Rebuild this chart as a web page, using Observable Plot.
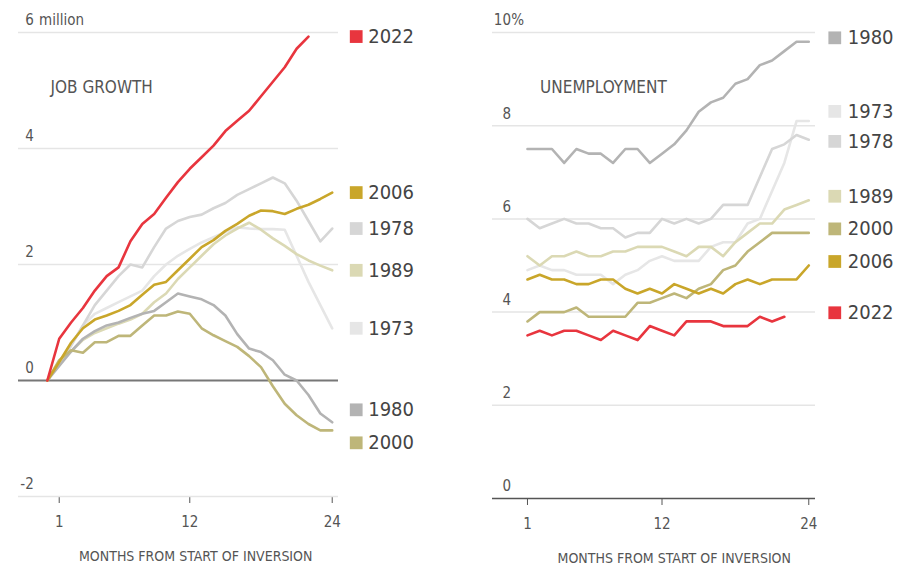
<!DOCTYPE html>
<html><head><meta charset="utf-8">
<script src="https://cdn.jsdelivr.net/npm/d3@7"></script>
<script src="https://cdn.jsdelivr.net/npm/@observablehq/plot@0.6"></script>
<style>
body{margin:0;background:#fff;}
#wrap{display:flex;width:911px;height:576px;overflow:hidden;}
#wrap svg{flex:none;}
</style></head><body><div id="wrap"></div>
<script>
const FONT = '"Liberation Sans Narrow","DejaVu Sans Condensed","Roboto Condensed",sans-serif';

// ---------- DATA ----------
const seriesNames = ["1973", "1978", "1989", "1980", "2000", "2006", "2022"];
const seriesColors = ["#e6e6e6", "#d6d6d6", "#dbd9b4", "#b3b3b3", "#beb679", "#c9a62a", "#e8353e"];

// Job growth: cumulative change in payrolls (millions), months 0..24 from start of inversion
const jobMonths = [0,1,2,3,4,5,6,7,8,9,10,11,12,13,14,15,16,17,18,19,20,21,22,23,24];
const job1973 = [0,0.3,0.6,0.95,1.15,1.25,1.35,1.45,1.55,1.8,2.0,2.15,2.27,2.38,2.47,2.56,2.64,2.62,2.61,2.61,2.6,2.15,1.7,1.3,0.9];
const job1978 = [0,0.3,0.6,0.95,1.3,1.55,1.8,2.0,1.95,2.3,2.62,2.75,2.82,2.86,2.97,3.06,3.2,3.3,3.4,3.5,3.4,3.1,2.75,2.4,2.62];
const job1989 = [0,0.3,0.5,0.7,0.82,0.9,0.98,1.05,1.15,1.35,1.5,1.75,1.95,2.15,2.35,2.5,2.62,2.72,2.6,2.45,2.32,2.18,2.07,1.98,1.9];
const job1980 = [0,0.25,0.5,0.72,0.85,0.95,1.0,1.08,1.15,1.2,1.35,1.5,1.45,1.4,1.3,1.12,0.8,0.55,0.49,0.35,0.1,0.0,-0.25,-0.57,-0.72];
const job2000 = [0,0.35,0.52,0.48,0.66,0.66,0.77,0.77,0.95,1.12,1.12,1.19,1.15,0.9,0.78,0.68,0.58,0.42,0.23,-0.1,-0.4,-0.6,-0.75,-0.86,-0.86];
const job2006 = [0,0.32,0.65,0.9,1.05,1.12,1.2,1.3,1.48,1.65,1.7,1.9,2.1,2.3,2.42,2.58,2.7,2.84,2.93,2.92,2.87,2.96,3.03,3.13,3.24];
const job2022 = [0,0.72,1.0,1.25,1.55,1.8,1.95,2.4,2.7,2.87,3.15,3.42,3.65,3.85,4.05,4.3,4.48,4.65,4.9,5.15,5.4,5.72,5.93];

// Unemployment rate (%), months 1..24 from start of inversion
const unempMonths = [1,2,3,4,5,6,7,8,9,10,11,12,13,14,15,16,17,18,19,20,21,22,23,24];
const u1973 = [4.9,5.0,4.9,4.9,4.8,4.8,4.8,4.6,4.8,4.9,5.1,5.2,5.1,5.1,5.1,5.4,5.5,5.5,5.9,6.0,6.6,7.2,8.1,8.1];
const u1978 = [6.0,5.8,5.9,6.0,5.9,5.9,5.8,5.8,5.6,5.7,5.7,6.0,5.9,6.0,5.9,6.0,6.3,6.3,6.3,6.9,7.5,7.6,7.8,7.7];
const u1989 = [5.2,5.0,5.2,5.2,5.3,5.2,5.2,5.3,5.3,5.4,5.4,5.4,5.3,5.2,5.4,5.4,5.2,5.5,5.7,5.9,5.9,6.2,6.3,6.4];
const u1980 = [7.5,7.5,7.5,7.2,7.5,7.4,7.4,7.2,7.5,7.5,7.2,7.4,7.6,7.9,8.3,8.5,8.6,8.9,9.0,9.3,9.4,9.6,9.8,9.8];
const u2000 = [3.8,4.0,4.0,4.0,4.1,3.9,3.9,3.9,3.9,4.2,4.2,4.3,4.4,4.3,4.5,4.6,4.9,5.0,5.3,5.5,5.7,5.7,5.7,5.7];
const u2006 = [4.7,4.8,4.7,4.7,4.6,4.6,4.7,4.7,4.5,4.4,4.5,4.4,4.6,4.5,4.4,4.5,4.4,4.6,4.7,4.6,4.7,4.7,4.7,5.0];
const u2022 = [3.5,3.6,3.5,3.6,3.6,3.5,3.4,3.6,3.5,3.4,3.7,3.6,3.5,3.8,3.8,3.8,3.7,3.7,3.7,3.9,3.8,3.9];

const jobTicks = [-2, 0, 2, 4, 6];
const unempTicks = [0, 2, 4, 6, 8, 10];
const monthTicks = [1, 12, 24];

const jobValues = [job1973, job1978, job1989, job1980, job2000, job2006, job2022];
const unempValues = [u1973, u1978, u1989, u1980, u2000, u2006, u2022];

// ---------- BUILD ----------
function rows(months, values) {
  const out = [];
  seriesNames.forEach((name, i) => {
    values[i].forEach((v, j) => out.push({series: name, month: months[j], value: v}));
  });
  return out;
}

function dodge(items, gap) {
  items.sort((a, b) => a.py - b.py);
  for (let it = 0; it < 500; it++) {
    let moved = false;
    for (let i = 1; i < items.length; i++) {
      const d = items[i].py - items[i - 1].py;
      if (d < gap - 0.01) {
        const s = (gap - d) / 2;
        items[i].py += s; items[i - 1].py -= s; moved = true;
      }
    }
    if (!moved) break;
  }
}

function chart(cfg) {
  const data = rows(cfg.months, cfg.values);
  const yRange = [cfg.height - cfg.marginBottom, cfg.marginTop];
  const ys = d3.scaleLinear().domain(cfg.yDomain).range(yRange);
  const labels = seriesNames.map((name, i) => {
    const arr = cfg.values[i];
    return {series: name, py: ys(arr[arr.length - 1])};
  });
  dodge(labels, cfg.gap);
  labels.forEach(l => l.ly = ys.invert(l.py + cfg.labelShift));
  const lastMonth = cfg.months[cfg.months.length - 1];

  return Plot.plot({
    width: cfg.width, height: cfg.height,
    marginLeft: cfg.marginLeft, marginRight: cfg.marginRight,
    marginTop: cfg.marginTop, marginBottom: cfg.marginBottom,
    style: {fontFamily: FONT, fontSize: "15px", color: "#555", background: "#fff", overflow: "visible"},
    x: {domain: cfg.xDomain, ticks: monthTicks, tickSize: 7, tickPadding: 13, label: null, tickFormat: d => String(d)},
    y: {domain: cfg.yDomain, axis: null},
    color: {domain: seriesNames, range: seriesColors},
    marks: [
      Plot.ruleY(cfg.yTicks.filter(t => t !== cfg.baseline), {stroke: "#e5e5e5", strokeWidth: 1.5}),
      Plot.text(cfg.yTicks, {y: d => d, text: d => String(d), frameAnchor: "left", dx: cfg.numDx, dy: -12, textAnchor: "end", fill: "#555", fontSize: 15}),
      Plot.text([cfg.yTicks[cfg.yTicks.length - 1]], {y: d => d, text: () => cfg.suffix, frameAnchor: "left", dx: cfg.suffixDx, dy: -12, textAnchor: "start", fill: "#555", fontSize: 15}),
      Plot.text([cfg.title], {text: d => d, frameAnchor: "top-left", dx: cfg.titleDx, dy: 48, textAnchor: "start", fill: "#555", fontSize: 17}),
      Plot.ruleY([cfg.baseline], {stroke: cfg.baseColor, strokeWidth: cfg.baseWidth}),
      Plot.line(data, {x: "month", y: "value", z: "series", stroke: "series", strokeWidth: 2.6, strokeLinejoin: "round", strokeLinecap: "round"}),
      Plot.dot(labels, {x: () => lastMonth, y: "ly", fill: "series", symbol: "square", r: 7.2, dx: cfg.dotDx}),
      Plot.text(labels, {x: () => lastMonth, y: "ly", text: "series", dx: cfg.textDx, textAnchor: "start", fill: "#444", fontSize: 20}),
      Plot.text(["MONTHS FROM START OF INVERSION"], {x: () => cfg.axisTitleX, text: d => d, frameAnchor: "bottom", dy: 64, fill: "#555", fontSize: 14})
    ]
  });
}

const left = chart({
  width: 460, height: 576, marginLeft: 18, marginRight: 122, marginTop: 32, marginBottom: 80,
  xDomain: [-2.43, 24.53], yDomain: [-2, 6], yTicks: jobTicks,
  months: jobMonths, values: jobValues, suffix: "million", title: "JOB GROWTH",
  baseline: 0, baseColor: "#777", baseWidth: 2,
  numDx: 15.3, suffixDx: 20.5, titleDx: 32, dotDx: 24, textDx: 36, gap: 33, labelShift: 0, axisTitleX: 12.5
});
const right = chart({
  width: 451, height: 576, marginLeft: 32, marginRight: 96, marginTop: 32, marginBottom: 78,
  xDomain: [-1.86, 24.55], yDomain: [0, 10], yTicks: unempTicks,
  months: unempMonths, values: unempValues, suffix: "%", title: "UNEMPLOYMENT",
  baseline: 0, baseColor: "#555", baseWidth: 1.5,
  numDx: 18.5, suffixDx: 18.8, titleDx: 47.6, dotDx: 26, textDx: 39, gap: 30, labelShift: -4, axisTitleX: 13
});
document.getElementById("wrap").append(left, right);
</script>
</body></html>
